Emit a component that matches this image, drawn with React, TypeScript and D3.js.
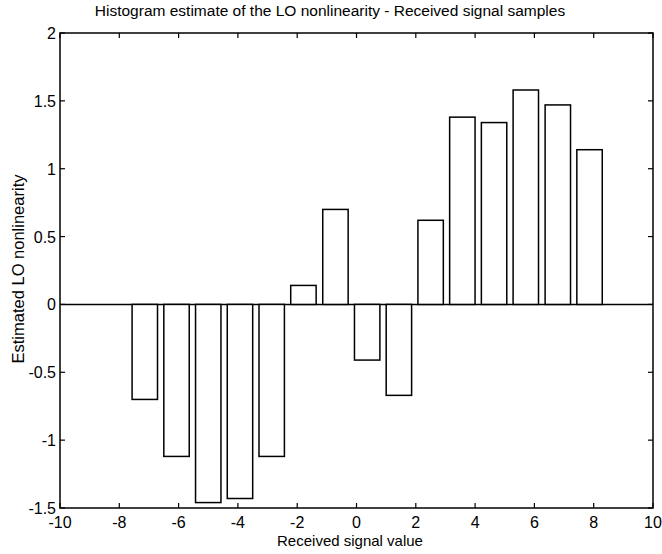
import React, { useEffect, useRef } from "react";
import * as d3 from "d3";

const binCenters = [-7.14, -6.07, -5.0, -3.93, -2.86, -1.79, -0.71, 0.36, 1.43, 2.5, 3.57, 4.64, 5.71, 6.79, 7.86];
const estimates = [-0.7, -1.12, -1.46, -1.43, -1.12, 0.14, 0.7, -0.41, -0.67, 0.62, 1.38, 1.34, 1.58, 1.47, 1.14];
const xTicks = [-10, -8, -6, -4, -2, 0, 2, 4, 6, 8, 10];
const yTicks = [-1.5, -1, -0.5, 0, 0.5, 1, 1.5, 2];
const titleText = "Histogram estimate of the LO nonlinearity - Received signal samples";
const xLabelText = "Received signal value";
const yLabelText = "Estimated LO nonlinearity";

const W = 662, H = 554;
const M = { left: 60, right: 9, top: 33, bottom: 46 };

export default function App() {
  const ref = useRef<SVGSVGElement>(null);
  useEffect(() => {
    const svg = d3.select(ref.current);
    svg.selectAll("*").remove();
    const x = d3.scaleLinear().domain([-10, 10]).range([M.left, W - M.right]);
    const y = d3.scaleLinear().domain([-1.5, 2]).range([H - M.bottom, M.top]);
    const font = "Liberation Sans, Arial, Helvetica, sans-serif";
    const barW = (x(15 / 14) - x(0)) * 0.8;

    const g = svg.append("g");
    g.append("line").attr("x1", x(-10)).attr("x2", x(10)).attr("y1", y(0)).attr("y2", y(0))
      .attr("stroke", "#000").attr("stroke-width", 1.5);
    g.selectAll("rect.bar").data(binCenters).enter().append("rect")
      .attr("x", (d) => x(d) - barW / 2)
      .attr("width", barW)
      .attr("y", (d, i) => Math.min(y(estimates[i]), y(0)))
      .attr("height", (d, i) => Math.abs(y(estimates[i]) - y(0)))
      .attr("fill", "#fff").attr("stroke", "#000").attr("stroke-width", 1.5);

    g.append("rect").attr("x", x(-10)).attr("y", y(2)).attr("width", x(10) - x(-10)).attr("height", y(-1.5) - y(2))
      .attr("fill", "none").attr("stroke", "#000").attr("stroke-width", 1.5);

    const tl = 5;
    xTicks.forEach((t) => {
      g.append("line").attr("x1", x(t)).attr("x2", x(t)).attr("y1", y(-1.5)).attr("y2", y(-1.5) - tl).attr("stroke", "#000").attr("stroke-width", 1.2);
      g.append("line").attr("x1", x(t)).attr("x2", x(t)).attr("y1", y(2)).attr("y2", y(2) + tl).attr("stroke", "#000").attr("stroke-width", 1.2);
      g.append("text").attr("x", x(t)).attr("y", y(-1.5) + 20).attr("text-anchor", "middle")
        .attr("font-family", font).attr("font-size", 16).text(String(t));
    });
    yTicks.forEach((t) => {
      g.append("line").attr("x1", x(-10)).attr("x2", x(-10) + tl).attr("y1", y(t)).attr("y2", y(t)).attr("stroke", "#000").attr("stroke-width", 1.2);
      g.append("line").attr("x1", x(10)).attr("x2", x(10) - tl).attr("y1", y(t)).attr("y2", y(t)).attr("stroke", "#000").attr("stroke-width", 1.2);
      g.append("text").attr("x", x(-10) - 4).attr("y", y(t) + 6).attr("text-anchor", "end")
        .attr("font-family", font).attr("font-size", 16).text(String(t));
    });

    g.append("text").attr("x", 330).attr("y", 16).attr("text-anchor", "middle")
      .attr("font-family", font).attr("font-size", 15.5).text(titleText);
    g.append("text").attr("x", 350).attr("y", 546).attr("text-anchor", "middle")
      .attr("font-family", font).attr("font-size", 15).text(xLabelText);
    g.append("text").attr("transform", `translate(24, 269) rotate(-90)`)
      .attr("text-anchor", "middle").attr("font-family", font).attr("font-size", 16.5).text(yLabelText);
  }, []);
  return (
    <svg ref={ref} width={W} height={H} style={{ position: "absolute", left: 0, top: 0, background: "#fff" }} />
  );
}
